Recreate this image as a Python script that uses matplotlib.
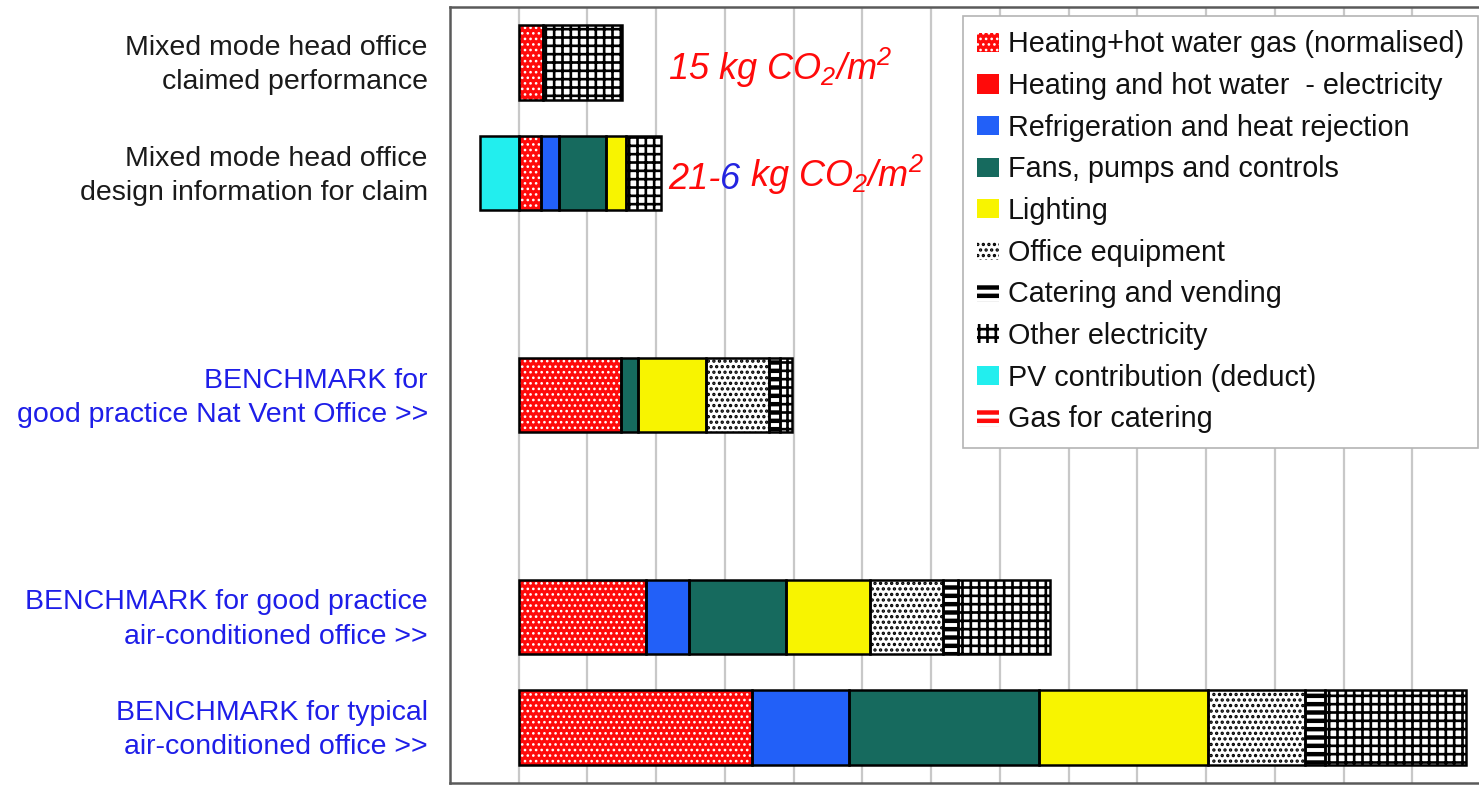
import matplotlib
matplotlib.use("Agg")
import matplotlib.pyplot as plt
import matplotlib.transforms as mtransforms
from matplotlib.patches import Patch
import numpy as np

plt.rcParams["font.family"] = ["Liberation Sans", "DejaVu Sans"]
plt.rcParams["mathtext.fontset"] = "custom"
plt.rcParams["mathtext.rm"] = "Liberation Sans:italic"
plt.rcParams["mathtext.it"] = "Liberation Sans:italic"
plt.rcParams["mathtext.bf"] = "Liberation Sans:bold"
plt.rcParams["hatch.linewidth"] = 1.2

# ---- data (kg CO2 per m2 per year) ----
categories = [
    "Mixed mode head office\nclaimed performance",
    "Mixed mode head office\ndesign information for claim",
    "",
    "BENCHMARK for\ngood practice Nat Vent Office >>",
    "",
    "BENCHMARK for good practice\nair-conditioned office >>",
    "BENCHMARK for typical\nair-conditioned office >>",
]
label_colors = ["#1a1a1a", "#1a1a1a", "#1a1a1a", "#1e1ee8",
                "#1a1a1a", "#1e1ee8", "#1e1ee8"]

series_names = [
    "Heating+hot water gas (normalised)",
    "Heating and hot water  - electricity",
    "Refrigeration and heat rejection",
    "Fans, pumps and controls",
    "Lighting",
    "Office equipment",
    "Catering and vending",
    "Other electricity",
    "PV contribution (deduct)",
    "Gas for catering",
]

heating_gas   = [3.5, 3.3, 0, 14.9, 0, 18.5, 33.9]
heating_elec  = [0, 0, 0, 0, 0, 0, 0]
refrigeration = [0, 2.6, 0, 0, 0, 6.2, 14.2]
fans          = [0, 6.8, 0, 2.4, 0, 14.2, 27.6]
lighting      = [0, 2.9, 0, 9.9, 0, 12.2, 24.6]
office_equip  = [0, 0, 0, 9.2, 0, 10.6, 14.1]
catering      = [0, 0, 0, 1.6, 0, 2.2, 2.9]
other_elec    = [11.5, 5.1, 0, 1.7, 0, 13.4, 20.5]
pv_deduct     = [0, -5.7, 0, 0, 0, 0, 0]
gas_catering  = [0, 0, 0, 0, 0, 0, 0]

series_values = [heating_gas, heating_elec, refrigeration, fans, lighting,
                 office_equip, catering, other_elec, pv_deduct, gas_catering]

claimed_total = 15
design_total = 21
design_pv = 6

# ---- styles: face colour, hatch, hatch colour, hatch linewidth ----
RED = "#ff0a0a"
styles = {
    series_names[0]: (RED, "...", "white", 1.1),
    series_names[1]: (RED, None, None, 1.0),
    series_names[2]: ("#2260f8", None, None, 1.0),
    series_names[3]: ("#166a5e", None, None, 1.0),
    series_names[4]: ("#f8f400", None, None, 1.0),
    series_names[5]: ("white", "...", "black", 1.6),
    series_names[6]: ("white", "--", "black", 3.2),
    series_names[7]: ("white", "++", "black", 1.9),
    series_names[8]: ("#22eeee", None, None, 1.0),
    series_names[9]: ("white", "--", RED, 3.2),
}

fig = plt.figure(figsize=(14.79, 7.87), dpi=100)
ax = fig.add_axes([450 / 1479, 4 / 787, 1031 / 1479, 776 / 787])

y = np.arange(len(categories))
bar_h = 0.67


def set_hatch_lw(patches, lw):
    for p in patches:
        if hasattr(p, "set_hatch_linewidth"):
            p.set_hatch_linewidth(lw)
        else:
            p._hatch_linewidth = lw


pos_left = np.zeros(len(categories))
for name, vals in zip(series_names, series_values):
    vals = np.asarray(vals, dtype=float)
    face, hatch, hcol, hlw = styles[name]
    nz = vals != 0
    if not nz.any():
        continue
    left = np.where(vals > 0, pos_left, 0.0)
    with plt.rc_context({"hatch.linewidth": hlw}):
        fill = ax.barh(y[nz], vals[nz], left=left[nz], height=bar_h,
                       color=face, hatch=hatch,
                       edgecolor=hcol if hcol else face, linewidth=0,
                       zorder=3)
    set_hatch_lw(fill.patches, hlw)
    ax.barh(y[nz], vals[nz], left=left[nz], height=bar_h, fill=False,
            edgecolor="black", linewidth=1.8, zorder=4)
    pos_left = pos_left + np.where(vals > 0, vals, 0.0)

# ---- axes ----
ax.set_xlim(-10, 140)
ax.set_ylim(len(categories) - 0.5, -0.5)
ax.set_xticks(np.arange(0, 140, 10))
ax.tick_params(axis="x", length=0, labelbottom=False)
ax.grid(axis="x", color="#c8c8c8", linewidth=1.6, zorder=0)
ax.set_axisbelow(True)

ax.set_yticks(y)
ax.set_yticklabels(categories, fontsize=20.5, linespacing=1.42)
ax.tick_params(axis="y", length=0, pad=16)
lift = mtransforms.ScaledTranslation(0, 4.5 / 100, fig.dpi_scale_trans)
for lbl, c in zip(ax.get_yticklabels(), label_colors):
    lbl.set_color(c)
    lbl.set_transform(lbl.get_transform() + lift)

for side in ["left", "top", "bottom", "right"]:
    ax.spines[side].set_color("#5a5a5a")
    ax.spines[side].set_linewidth(1.8)

# ---- annotations ----
ann_kw = dict(color=RED, fontsize=26, fontstyle="italic")
ax.text(21.7, 0.05, f"{claimed_total} kg CO$_2$/m$^2$", va="center", **ann_kw)
t1 = ax.text(21.7, 1.06, f"{design_total}-", va="center", **ann_kw)
t2 = ax.annotate(f"{design_pv}", xy=(1, 0), xycoords=t1, va="bottom",
                 color="#2424e0", fontsize=26, fontstyle="italic")
ax.annotate(" kg CO$_2$/m$^2$", xy=(1, 0), xycoords=t2, va="bottom", **ann_kw)

# ---- legend ----
handles = []
for name in series_names:
    face, hatch, hcol, hlw = styles[name]
    handles.append(Patch(facecolor=face, hatch=hatch,
                         edgecolor=hcol if hcol else face, linewidth=0,
                         label=name))

leg = ax.legend(handles=handles, loc="upper left",
                bbox_to_anchor=(963 / 1479, 1 - 16 / 787),
                bbox_transform=fig.transFigure, fontsize=20.7,
                frameon=True, fancybox=False, framealpha=1,
                edgecolor="#b4b4b4", borderpad=0.5, labelspacing=0.475,
                handlelength=0.75, handleheight=0.65, handletextpad=0.3,
                borderaxespad=0)
leg.get_frame().set_linewidth(1.2)
for txt in leg.get_texts():
    txt.set_color("#111111")
for name, h in zip(series_names, leg.legend_handles):
    set_hatch_lw([h], styles[name][3])
leg.set_zorder(6)

fig.savefig("out.png", dpi=100)
